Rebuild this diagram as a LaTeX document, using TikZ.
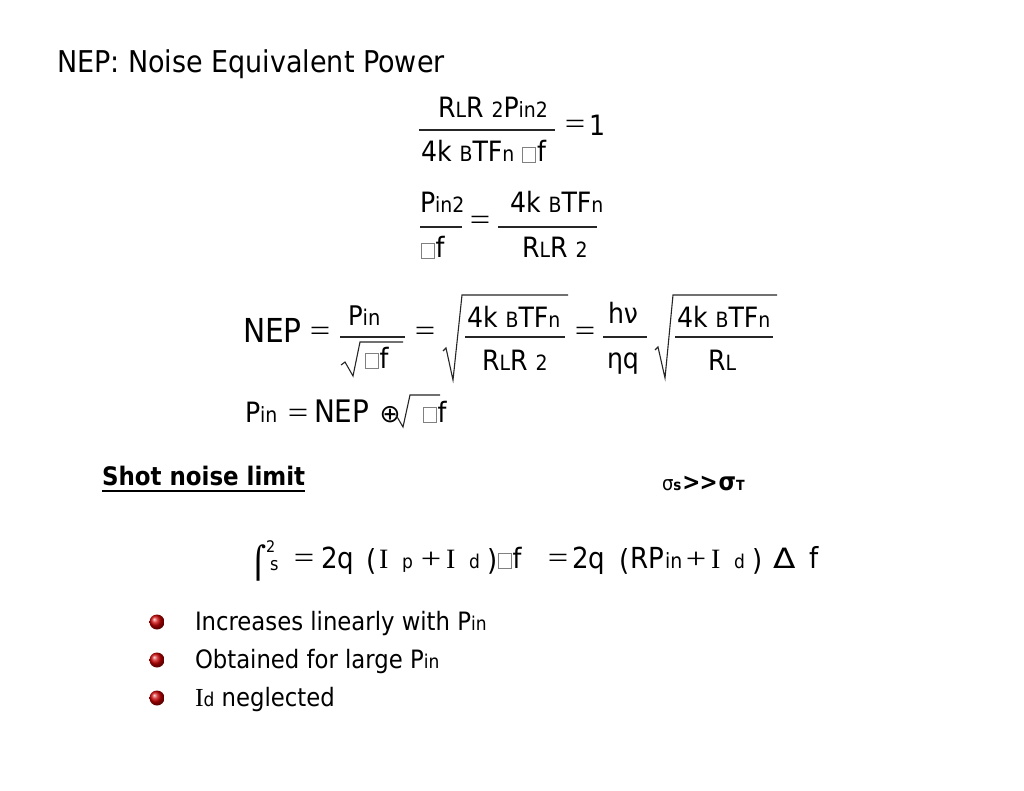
\documentclass[tikz,border=0pt]{standalone}
\usepackage{fontspec}
\usepackage{graphicx}
\setmainfont{DejaVu Sans Condensed}
\newfontfamily\tnr{Liberation Serif}
\newfontfamily\dvs{DejaVu Sans}
\newcommand\lo[1]{\scalebox{0.75}{#1}}
\newcommand\fs[1]{\fontsize{#1}{#1}\selectfont}
\newcommand\bx{{\color{gray}\setlength{\fboxsep}{0pt}\setlength{\fboxrule}{0.6pt}\fbox{\rule{0pt}{0.52em}\hspace{0.44em}}}\kern0.04em}
\newcommand\wide[1]{\scalebox{1.25}[1]{#1}}
\tikzset{
  txt/.style={anchor=base west, inner sep=0pt, outer sep=0pt},
  eqsym/.style={anchor=center, inner sep=0pt, outer sep=0pt, font=\tnr\fs{29}},
  fr/.style={line width=1.1pt, draw=black!85},
  rad/.style={line width=1.1pt, draw=black!85, line join=miter},
  bul/.style={ball color=red!80!black},
}
\begin{document}
\begin{tikzpicture}[x=1pt,y=-1pt]
\useasboundingbox[fill=white] (0,0) rectangle (1024,791);

% title
\node[txt,font=\fs{30}] (title) at (57,73) {NEP: Noise Equivalent Power};

% equation 1
\node[txt,font=\fs{28}] (e1n) at (438,118) {R\lo{L}R \lo{2}P\lo{in2}};
\node[txt,font=\fs{28}] (e1d) at (421,162) {4k \lo{B}TF\lo{n} \bx f};
\coordinate (e1a) at (419,130); \coordinate (e1b) at (555,130);
\draw[fr] (e1a) -- (e1b);
\node[eqsym] (e1eq) at (575,127) {\wide{=}};
\node[txt,font=\fs{28}] (e1one) at (589,136) {1};

% equation 2
\node[txt,font=\fs{28}] (e2n) at (420,213) {P\lo{in2}};
\node[txt,font=\fs{28}] (e2d) at (421,258) {\bx f};
\coordinate (e2a) at (420,227); \coordinate (e2b) at (462,227);
\draw[fr] (e2a) -- (e2b);
\node[eqsym] (e2eq) at (480,223) {\wide{=}};
\node[txt,font=\fs{28}] (e2rn) at (510,213) {4k \lo{B}TF\lo{n}};
\node[txt,font=\fs{28}] (e2rd) at (522,258) {R\lo{L}R \lo{2}};
\coordinate (e2c) at (498,227); \coordinate (e2d2) at (597,227);
\draw[fr] (e2c) -- (e2d2);

% equation 3
\node[txt,font=\fs{33}] (nep) at (243,342) {NEP};
\node[eqsym] (e3eq1) at (320,334) {\wide{=}};
\node[txt,font=\fs{27}] (e3n1) at (348,325) {P\scalebox{0.8}{in}};
\coordinate (e3a) at (340,337); \coordinate (e3b) at (405,337);
\draw[fr] (e3a) -- (e3b);
\coordinate (r1a) at (341,365); \coordinate (r1b) at (345,362);
\coordinate (r1c) at (353,376); \coordinate (r1d) at (360,342);
\coordinate (r1e) at (403,342);
\draw[rad] (r1a) -- (r1b) -- (r1c) -- (r1d) -- (r1e);
\node[txt,font=\fs{28}] (e3d1) at (365,368) {\bx f};
\node[eqsym] (e3eq2) at (425,334) {\wide{=}};
\coordinate (r2a) at (443,351); \coordinate (r2b) at (446,348);
\coordinate (r2c) at (453,380); \coordinate (r2d) at (462,295);
\coordinate (r2e) at (568,295);
\draw[rad] (r2a) -- (r2b) -- (r2c) -- (r2d) -- (r2e);
\node[txt,font=\fs{28}] (e3n2) at (467,327) {4k \lo{B}TF\lo{n}};
\coordinate (e3c) at (465,337); \coordinate (e3d) at (565,337);
\draw[fr] (e3c) -- (e3d);
\node[txt,font=\fs{28}] (e3d2) at (482,370) {R\lo{L}R \lo{2}};
\node[eqsym] (e3eq3) at (585,334) {\wide{=}};
\node[txt,font=\fs{28}] (hnu) at (608,323) {hν};
\coordinate (e3e) at (603,337); \coordinate (e3f) at (647,337);
\draw[fr] (e3e) -- (e3f);
\node[txt,font=\fs{28}] (etaq) at (607,368) {ηq};
\coordinate (r3a) at (655,350); \coordinate (r3b) at (658,347);
\coordinate (r3c) at (665,378); \coordinate (r3d) at (673,295);
\coordinate (r3e) at (777,295);
\draw[rad] (r3a) -- (r3b) -- (r3c) -- (r3d) -- (r3e);
\node[txt,font=\fs{28}] (e3n3) at (677,327) {4k \lo{B}TF\lo{n}};
\coordinate (e3g) at (675,337); \coordinate (e3h) at (773,337);
\draw[fr] (e3g) -- (e3h);
\node[txt,font=\fs{28}] (e3d3) at (708,370) {R\lo{L}};

% equation 4
\node[txt,font=\fs{28}] (e4p) at (245,422) {P\lo{in}};
\node[eqsym] (e4eq) at (298,416) {\wide{=}};
\node[txt,font=\fs{31}] (e4nep) at (314,422) {NEP};
\node[anchor=center,inner sep=0pt,font=\dvs\fs{25}] (oplus) at (390,415) {⊕};
\coordinate (r4a) at (396,415); \coordinate (r4c) at (403,427);
\coordinate (r4d) at (410,395); \coordinate (r4e) at (440,395);
\draw[rad] (r4a) -- (r4c) -- (r4d) -- (r4e);
\node[txt,font=\fs{28}] (e4f) at (423,422) {\bx f};

% shot noise limit
\node[txt,font=\bfseries\fs{25.5}] (snl) at (102,485) {Shot noise limit};
\coordinate (ula) at ([yshift=-6pt]snl.base west);
\coordinate (ulb) at ([yshift=-6pt]snl.base east);
\draw[line width=2.4pt] (ula) -- (ulb);
\node[txt] (sig) at (662,490) {{\fs{20}σ}{\bfseries\fs{15}s}\kern1pt{\bfseries\fs{24}>{}\kern-1pt>}\kern1pt{\bfseries\fs{25}σ}{\bfseries\fs{14}T}};

% equation 5
\node[txt,font=\dvs\fs{31}] (ihalf) at (250,573) {⌠};
\node[txt,font=\fs{16}] (isup) at (266,552) {2};
\node[txt,font=\fs{18}] (isub) at (270,570) {s};
\node[eqsym] (e5eq1) at (304,561) {\wide{=}};
\node[txt,font=\fs{29}] (e5a) at (321,568) {2q};
\node[txt,font=\fs{29}] (e5b) at (366,570) {(};
\node[txt,font=\tnr\fs{28}] (e5c) at (379,568) {I};
\node[txt,font=\fs{19}] (e5d) at (402,568) {p};
\node[eqsym] (e5plus1) at (431,560) {\wide{+}};
\node[txt,font=\tnr\fs{28}] (e5e) at (446,568) {I};
\node[txt,font=\fs{19}] (e5f) at (469,568) {d};
\node[txt,font=\fs{29}] (e5g) at (487,570) {)};
\node[txt,font=\fs{28}] (e5h) at (498,568) {\bx f};
\node[eqsym] (e5eq2) at (558,561) {\wide{=}};
\node[txt,font=\fs{29}] (e5i) at (572,568) {2q};
\node[txt,font=\fs{29}] (e5j) at (619,570) {(};
\node[txt,font=\fs{29}] (e5j2) at (630,568) {RP};
\node[txt,font=\fs{21}] (e5k) at (665,568) {in};
\node[eqsym] (e5plus2) at (696,560) {\wide{+}};
\node[txt,font=\tnr\fs{28}] (e5l) at (711,568) {I};
\node[txt,font=\fs{19}] (e5m) at (734,568) {d};
\node[txt,font=\fs{29}] (e5n) at (752,570) {)};
\node[txt,font=\fs{28}] (e5o) at (773,568) {\scalebox{1.3}[1]{Δ}};
\node[txt,font=\fs{29}] (e5p) at (809,568) {f};

% bullets
\shade[bul] (157,622) circle (7.5);
\shade[bul] (157,660) circle (7.5);
\shade[bul] (157,698) circle (7.5);
\node[txt,font=\fs{25.3}] (b1) at (195,630) {Increases linearly with P\lo{in}};
\node[txt,font=\fs{25.3}] (b2) at (195,668) {Obtained for large P\lo{in}};
\node[txt,font=\fs{25.3}] (b3) at (195,706) {{\tnr\fs{26}I}\lo{d} neglected};
\end{tikzpicture}
\end{document}
